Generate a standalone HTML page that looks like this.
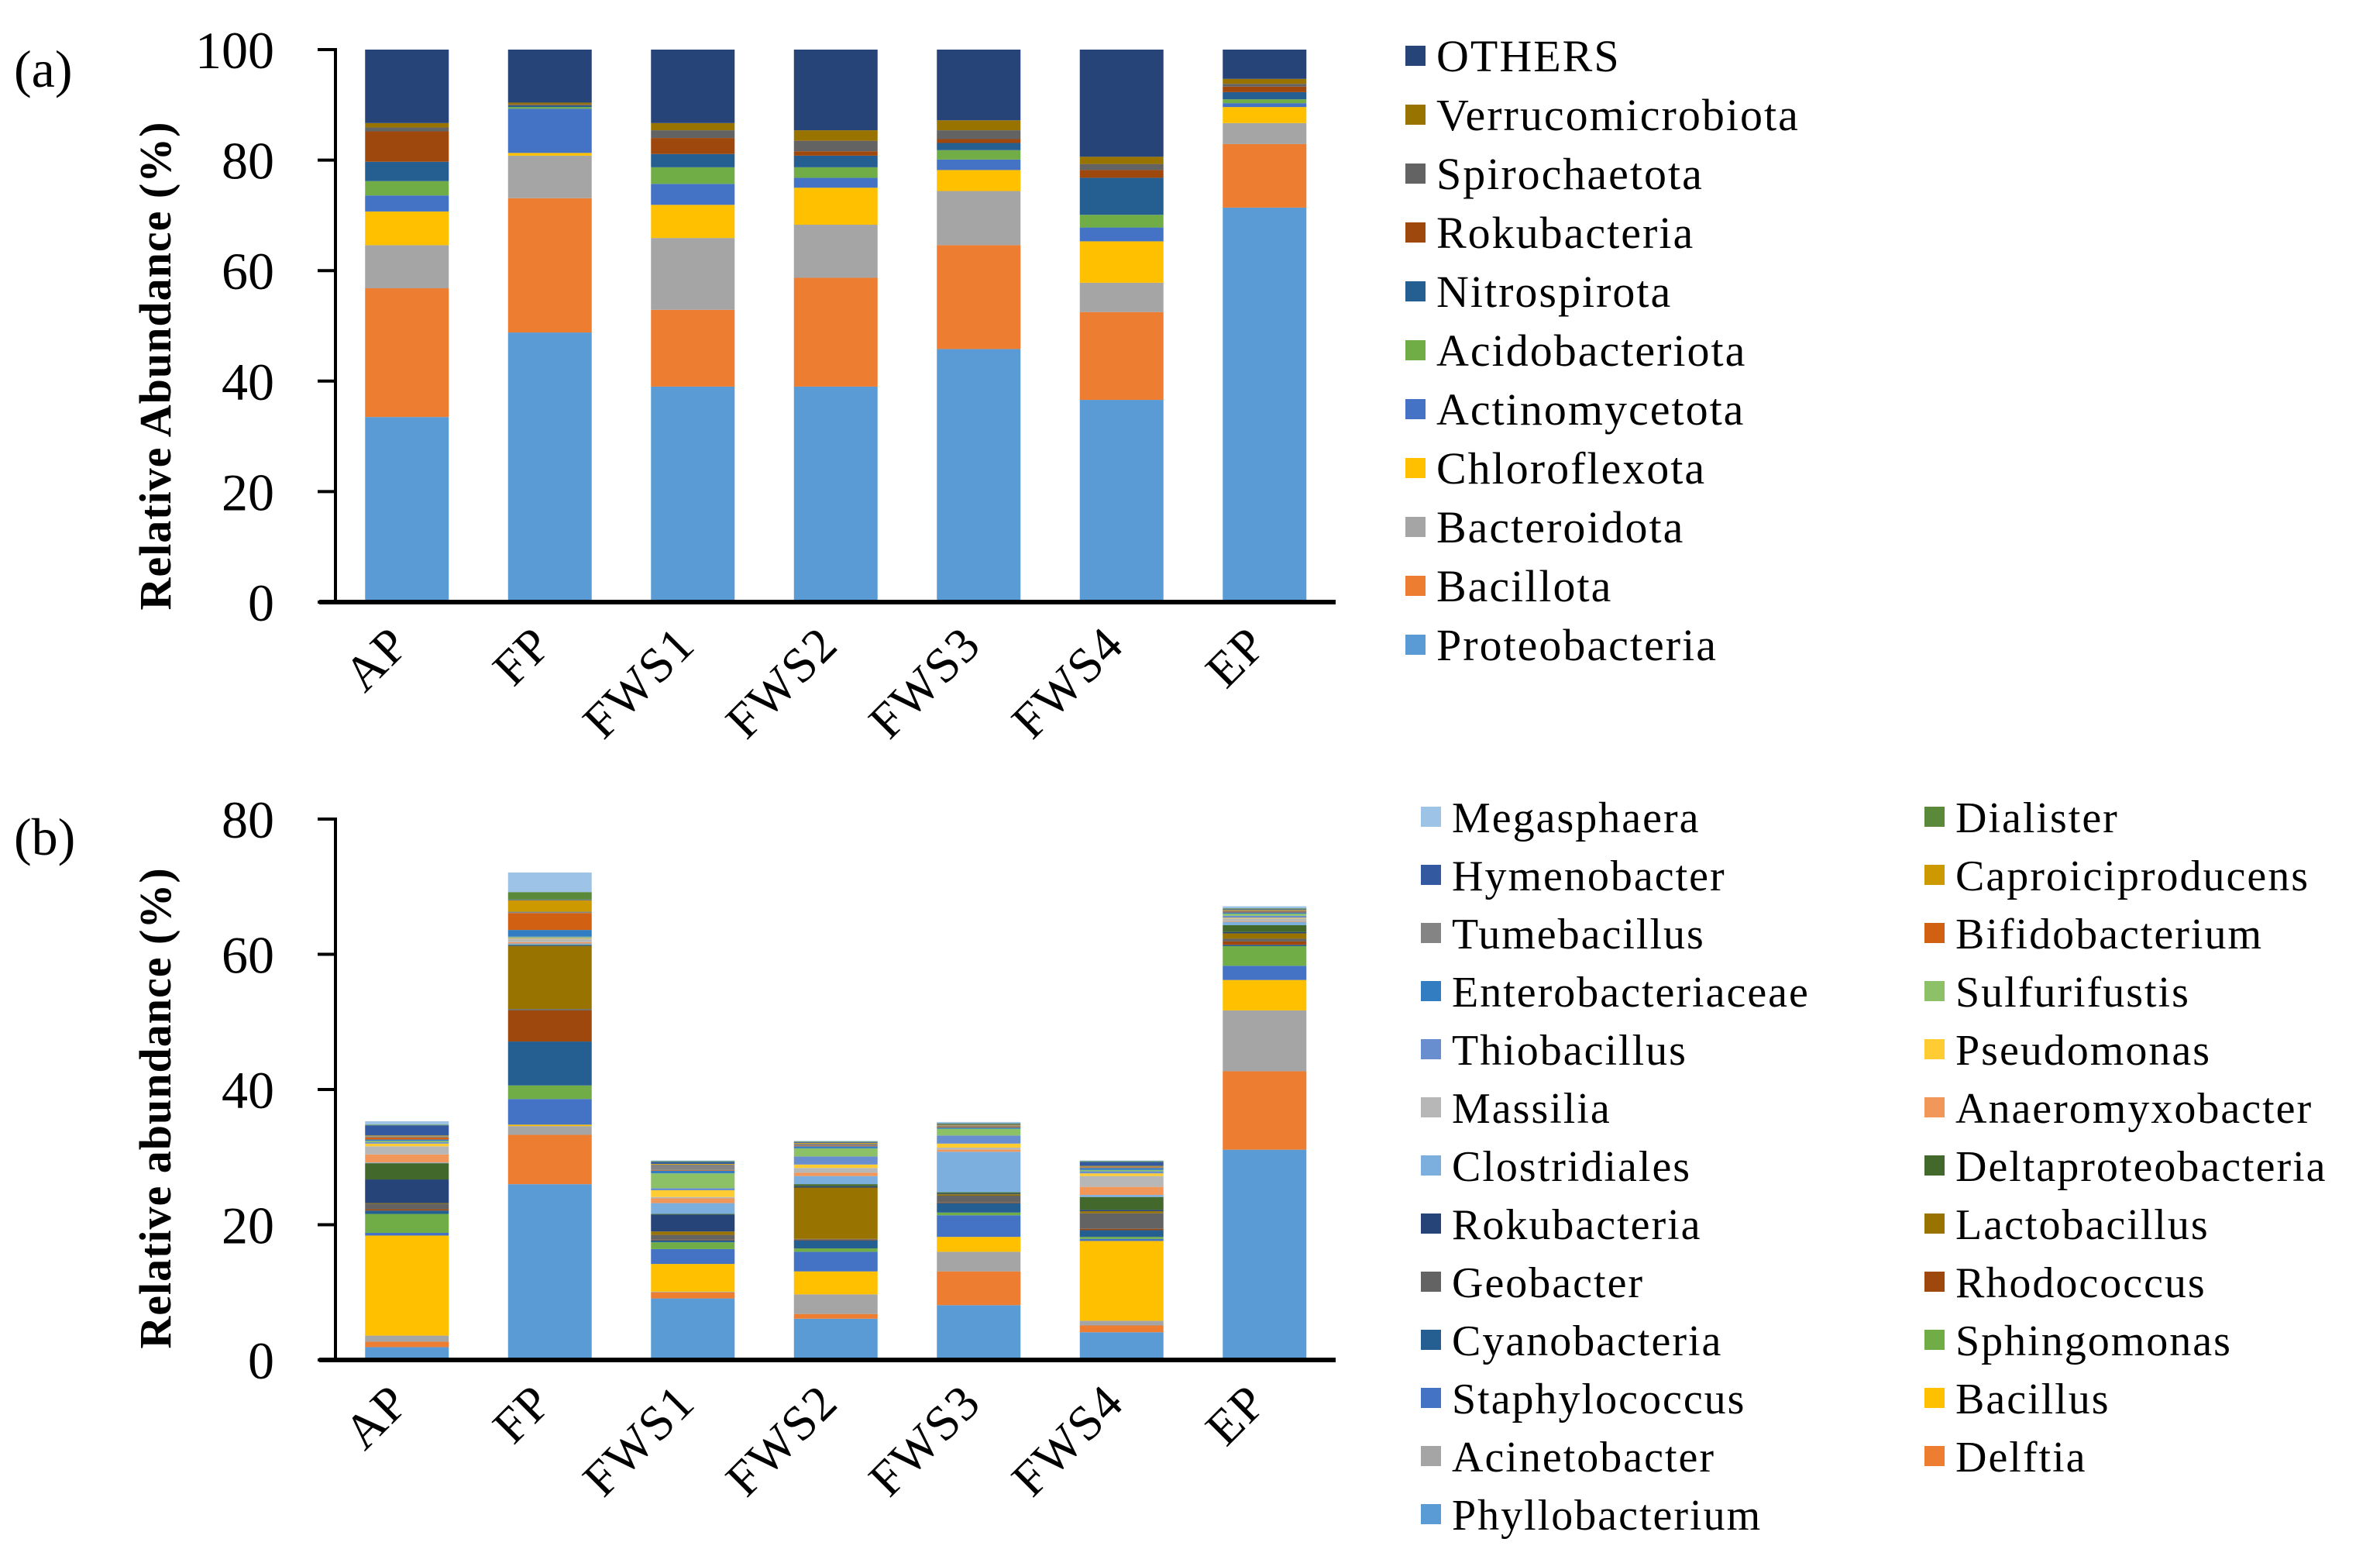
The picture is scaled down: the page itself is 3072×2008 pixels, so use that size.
<!DOCTYPE html>
<html><head><meta charset="utf-8"><style>
html,body{margin:0;padding:0;background:#fff}
svg{display:block;font-family:"Liberation Serif","DejaVu Serif",serif}
svg text{font-family:"Liberation Serif","DejaVu Serif",serif;fill:#000}
</style></head><body>
<svg id="chart" width="3072" height="2008" viewBox="0 0 3072 2008" font-family="Liberation Serif, DejaVu Serif, serif" xmlns="http://www.w3.org/2000/svg">
<text x="18" y="112" font-size="68" font-family="Liberation Serif, serif">(a)</text>
<text x="18" y="1103" font-size="68" font-family="Liberation Serif, serif">(b)</text>
<text transform="translate(220,472) rotate(-90)" text-anchor="middle" font-size="58" font-weight="bold" letter-spacing="1" font-family="Liberation Serif, serif">Relative Abundance (%)</text>
<text transform="translate(220,1430) rotate(-90)" text-anchor="middle" font-size="58" font-weight="bold" letter-spacing="1" font-family="Liberation Serif, serif">Relative abundance (%)</text>
<g id="ga"></g><g id="gb"></g>
</svg>
<script>
const categories = ["AP","FP","FWS1","FWS2","FWS3","FWS4","EP"];
const seriesA = ["Proteobacteria","Bacillota","Bacteroidota","Chloroflexota","Actinomycetota","Acidobacteriota","Nitrospirota","Rokubacteria","Spirochaetota","Verrucomicrobiota","OTHERS"];
const colorsA = ["#5b9bd5","#ed7d31","#a5a5a5","#ffc000","#4472c4","#70ad47","#255e91","#9e480e","#636363","#997300","#264478"];
const proteobacteria = [33.5,48.8,39.0,39.0,45.8,36.6,71.4];
const bacillota = [23.3,24.3,13.9,19.7,18.8,15.9,11.5];
const bacteroidota = [7.8,7.7,13.0,9.6,9.8,5.3,3.8];
const chloroflexota = [6.1,0.5,6.0,6.7,3.8,7.5,2.9];
const actinomycetota = [2.9,8.0,3.8,1.8,1.9,2.5,0.7];
const acidobacteriota = [2.6,0.3,3.0,1.9,1.7,2.3,0.7];
const nitrospirota = [3.5,0.3,2.4,2.1,1.3,6.7,1.3];
const rokubacteria = [5.5,0.1,2.9,0.8,0.7,1.4,1.0];
const spirochaetota = [0.7,0.1,1.4,1.9,1.6,1.1,0.5];
const verrucomicrobiota = [0.8,0.3,1.3,1.9,1.8,1.3,0.9];
const othersA = [13.3,9.6,13.3,14.6,12.8,19.4,5.3];
const valuesA = [proteobacteria,bacillota,bacteroidota,chloroflexota,actinomycetota,acidobacteriota,nitrospirota,rokubacteria,spirochaetota,verrucomicrobiota,othersA];
const ticksA = [0,20,40,60,80,100];

const seriesB = ["Phyllobacterium","Delftia","Acinetobacter","Bacillus","Staphylococcus","Sphingomonas","Cyanobacteria","Rhodococcus","Geobacter","Lactobacillus","Rokubacteria","Deltaproteobacteria","Clostridiales","Anaeromyxobacter","Massilia","Pseudomonas","Thiobacillus","Sulfurifustis","Enterobacteriaceae","Bifidobacterium","Tumebacillus","Caproiciproducens","Hymenobacter","Dialister","Megasphaera"];
const colorsB = ["#5b9bd5","#ed7d31","#a5a5a5","#ffc000","#4472c4","#70ad47","#255e91","#9e480e","#636363","#997300","#264478","#43682b","#7cafdd","#f1975a","#b7b7b7","#ffcd33","#698ed0","#8cc168","#327dc2","#d26012","#848484","#cc9a00","#335aa1","#5a8a39","#9dc3e6"];
const phyllobacterium = [1.9,26.0,9.1,6.1,8.1,4.1,31.1];
const delftia = [0.8,7.3,0.9,0.7,5.0,1.0,11.6];
const acinetobacter = [0.9,1.3,0.1,2.9,2.9,0.7,9.0];
const bacillus = [14.8,0.2,4.1,3.4,2.2,11.8,4.5];
const staphylococcus = [0.4,3.8,2.2,2.9,3.2,0.3,2.1];
const sphingomonas = [2.8,2.0,1.0,0.5,0.4,0.3,2.9];
const cyanobacteria = [0.5,6.5,0.3,1.2,1.4,1.0,0.2];
const rhodococcus = [0.2,4.6,0.1,0.1,0.1,0.2,0.5];
const geobacter = [0.8,0.2,0.7,0.1,1.0,2.3,0.4];
const lactobacillus = [0.1,9.3,0.5,7.6,0.2,0.3,0.8];
const rokubacteriaB = [3.5,0.1,2.5,0.2,0.1,0.2,0.2];
const deltaproteobacteria = [2.4,0.1,0.1,0.3,0.2,1.9,1.0];
const clostridiales = [0.1,0.2,1.6,1.2,6.0,0.3,0.5];
const anaeromyxobacter = [1.2,0.2,0.7,0.5,0.3,1.2,0.1];
const massilia = [1.2,0.5,0.2,0.7,0.3,1.6,0.4];
const pseudomonas = [0.4,0.1,1.0,0.5,0.6,0.4,0.1];
const thiobacillus = [0.2,0.1,0.3,1.2,1.2,0.3,0.3];
const sulfurifustis = [0.2,0.1,2.2,1.2,1.0,0.2,0.3];
const enterobacteriaceae = [0.2,1.0,0.4,0.3,0.2,0.3,0.2];
const bifidobacterium = [0.3,2.5,0.1,0.1,0.1,0.1,0.1];
const tumebacillus = [0.2,0.2,0.8,0.3,0.2,0.1,0.2];
const caproiciproducens = [0.1,1.7,0.1,0.1,0.1,0.1,0.1];
const hymenobacter = [1.5,0.1,0.3,0.1,0.1,0.6,0.1];
const dialister = [0.1,1.1,0.1,0.1,0.1,0.1,0.1];
const megasphaera = [0.5,2.9,0.1,0.1,0.2,0.1,0.3];
const valuesB = [phyllobacterium,delftia,acinetobacter,bacillus,staphylococcus,sphingomonas,cyanobacteria,rhodococcus,geobacter,lactobacillus,rokubacteriaB,deltaproteobacteria,clostridiales,anaeromyxobacter,massilia,pseudomonas,thiobacillus,sulfurifustis,enterobacteriaceae,bifidobacterium,tumebacillus,caproiciproducens,hymenobacter,dialister,megasphaera];
const ticksB = [0,20,40,60,80];
const legendColB1 = ["Megasphaera","Hymenobacter","Tumebacillus","Enterobacteriaceae","Thiobacillus","Massilia","Clostridiales","Rokubacteria","Geobacter","Cyanobacteria","Staphylococcus","Acinetobacter","Phyllobacterium"];
const legendColB2 = ["Dialister","Caproiciproducens","Bifidobacterium","Sulfurifustis","Pseudomonas","Anaeromyxobacter","Deltaproteobacteria","Lactobacillus","Rhodococcus","Sphingomonas","Bacillus","Delftia"];

const NS="http://www.w3.org/2000/svg";
const FF="Liberation Serif, DejaVu Serif, serif";
function mk(tag,attrs,parent){const e=document.createElementNS(NS,tag);for(const k in attrs)e.setAttribute(k,attrs[k]);parent.appendChild(e);return e;}

function drawPanel(g,series,colors,values,ticks,yMax,y0,y1,key){
  const x0=433,band=184.5,bw=108;
  const xC=i=>x0+band*(i+0.5);
  const yS=v=>y0-(v/yMax)*(y0-y1);
  categories.forEach((c,i)=>{
    let acc=0;
    series.forEach((s,j)=>{
      const v=values[j][i];
      const r=mk('rect',{x:xC(i)-bw/2,y:yS(acc+v),width:bw,height:Math.max(0,yS(acc)-yS(acc+v)),fill:colors[j]},g);
      
      
      acc+=v;
    });
    const t=mk('text',{transform:`translate(${xC(i)+6},${y0+58}) rotate(-45)`,'text-anchor':'end','font-size':64,'letter-spacing':2,'font-family':FF},g);
    t.textContent=c;
    
    
  });
  ticks.forEach(tv=>{
    const y=yS(tv);
    const tk=mk('line',{x1:410,x2:434,y1:y,y2:y,stroke:'#000','stroke-width':4},g);
    
    
    const t=mk('text',{x:354,y:y+24,'text-anchor':'end','font-size':68,'font-family':FF},g);
    t.textContent=tv;
    
    
  });
  const ya=mk('line',{x1:433,x2:433,y1:yS(ticks[ticks.length-1])-2,y2:y0+2,stroke:'#000','stroke-width':4},g);
  
  
  const xa=mk('line',{x1:412,x2:1724,y1:y0,y2:y0,stroke:'#000','stroke-width':6},g);
  
  
}
const ga=document.getElementById('ga'),gb=document.getElementById('gb');
drawPanel(ga,seriesA,colorsA,valuesA,ticksA,100,777,64,'a');
drawPanel(gb,seriesB,colorsB,valuesB,ticksB,80,1755,1057,'b');

function legendItem(g,x,y,name,color,fs){
  const r=mk('rect',{x:x,y:y-13,width:26,height:26,fill:color},g);
  
  
  const t=mk('text',{x:x+40,y:y+20,'font-size':fs,'letter-spacing':2,'font-family':FF},g);
  t.textContent=name;
  
  
}
const revA=seriesA.slice().reverse(), revCA=colorsA.slice().reverse();
revA.forEach((s,i)=>legendItem(ga,1814,72+i*76,s,revCA[i],58));
legendColB1.forEach((s,i)=>legendItem(gb,1834,1054+i*75,s,colorsB[seriesB.indexOf(s)],56));
legendColB2.forEach((s,i)=>legendItem(gb,2484,1054+i*75,s,colorsB[seriesB.indexOf(s)],56));
</script>
</body></html>
